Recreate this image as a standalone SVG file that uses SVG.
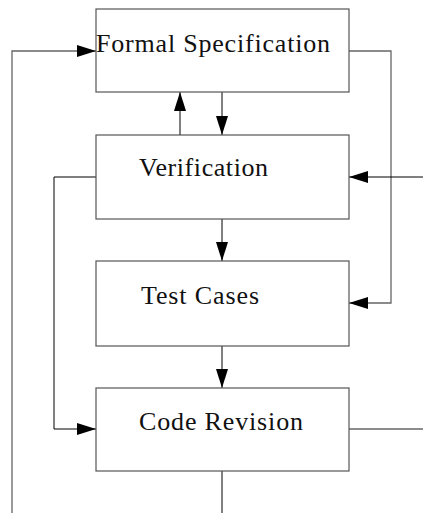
<svg xmlns="http://www.w3.org/2000/svg" width="423" height="513" viewBox="0 0 423 513">
<style>
.box{fill:#fff;stroke:#555;stroke-width:1.2}
.lbl{font-family:"Liberation Serif","Times New Roman",serif;font-size:26px;fill:#111}
.c{fill:none;stroke:#000;stroke-width:1}
.g{fill:none;stroke:#666;stroke-width:1.3}
</style>
<defs>
<marker id="ah" markerWidth="19" markerHeight="12" refX="19" refY="6" orient="auto" markerUnits="userSpaceOnUse">
<path d="M0,0 L19,6 L0,12 Z" fill="#000"/>
</marker>
</defs>
<g id="connectors">
<path class="g" d="M12,513 V51 H96" marker-end="url(#ah)"/>
<path class="g" d="M349,51 H391 V303 H349" marker-end="url(#ah)"/>
<path class="c" d="M180,135 V92" marker-end="url(#ah)"/>
<path class="c" d="M222,92 V135" marker-end="url(#ah)"/>
<path class="c" d="M423,177 H349" marker-end="url(#ah)"/>
<path class="c" d="M96,177 H54 V429 H96" marker-end="url(#ah)"/>
<path class="c" d="M222,219 V261" marker-end="url(#ah)"/>
<path class="c" d="M222,346 V388" marker-end="url(#ah)"/>
<path class="g" d="M349,429 H423"/>
<path class="c" d="M222,471 V513"/>
</g>
<g id="formal-specification">
<rect class="box" x="96" y="9" width="253" height="83"/>
<text class="lbl" x="96" y="52" textLength="234" lengthAdjust="spacing">Formal Specification</text>
</g>
<g id="verification">
<rect class="box" x="96" y="135" width="253" height="84"/>
<text class="lbl" x="139" y="176" textLength="129" lengthAdjust="spacing">Verification</text>
</g>
<g id="test-cases">
<rect class="box" x="96" y="261" width="253" height="85"/>
<text class="lbl" x="141" y="304" textLength="118" lengthAdjust="spacing">Test Cases</text>
</g>
<g id="code-revision">
<rect class="box" x="96" y="388" width="253" height="83"/>
<text class="lbl" x="139" y="430" textLength="164" lengthAdjust="spacing">Code Revision</text>
</g>
</svg>
